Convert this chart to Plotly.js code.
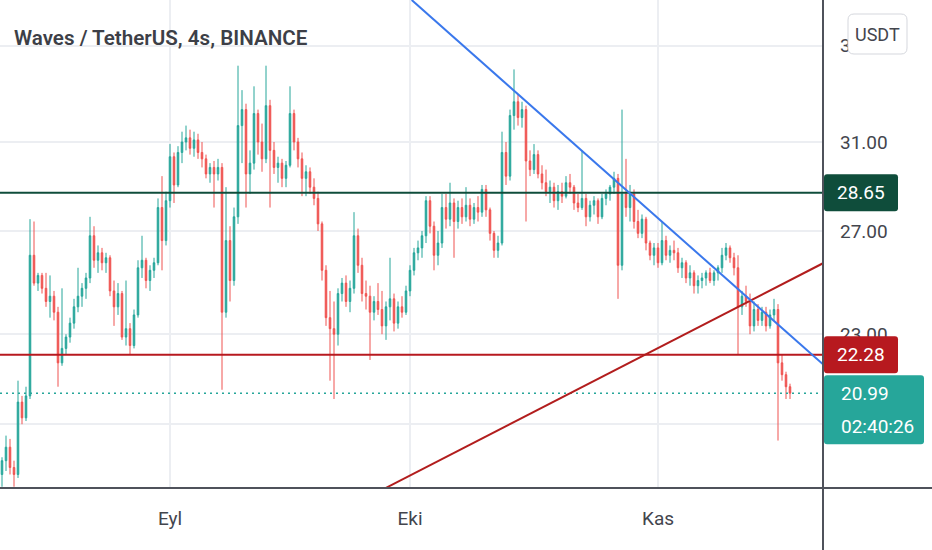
<!DOCTYPE html>
<html>
<head>
<meta charset="utf-8">
<script src="https://cdn.plot.ly/plotly-3.0.1.min.js"></script>
<style>html,body{margin:0;padding:0;background:#fff}#chart{width:932px;height:550px}</style>
</head>
<body>
<div id="chart"></div>
<script>
// ---- data (12h candles) ----
const startTime = '2021-08-11 00:00';
const stepHours = 12;
const openPrices = [18.5,18.9,19.3,18.7,18.5,20.7,20.2,20.9,26.0,24.9,
 25.2,24.7,24.2,24.4,23.8,22.0,22.5,22.9,23.4,24.0,
 24.4,24.7,25.1,26.8,25.8,26.1,25.7,25.9,24.6,24.0,
 24.5,22.9,23.2,22.6,23.7,25.5,25.8,25.0,25.4,25.7,
 28.0,26.6,28.3,30.3,29.0,30.5,31.0,31.2,30.7,31.1,
 30.5,30.2,29.5,29.8,29.5,29.8,23.8,26.6,25.0,27.6,
 31.8,32.6,29.5,30.0,32.4,31.0,30.2,32.8,30.6,29.8,
 30.0,29.3,29.9,32.4,31.0,30.2,29.3,29.6,28.9,28.4,
 27.3,25.4,23.6,23.2,23.0,24.5,24.9,24.2,24.7,26.8,
 25.6,24.5,24.4,23.8,24.2,23.9,23.3,24.0,24.3,23.4,
 24.0,23.8,24.6,25.4,26.1,26.3,26.8,28.3,27.2,26.0,
 26.5,28.0,27.5,28.2,27.4,28.0,27.6,28.1,27.5,28.0,
 27.8,28.8,27.9,26.9,26.2,26.5,30.5,29.4,32.3,33.0,
 32.2,32.6,30.1,29.7,30.4,29.5,29.1,28.7,28.9,28.3,
 28.7,28.5,29.1,28.9,28.2,28.0,28.4,27.6,28.1,28.3,
 27.6,28.4,28.6,28.9,29.3,25.6,28.6,28.0,28.6,27.4,
 26.9,27.5,26.5,26.0,26.3,25.7,26.6,26.0,26.2,26.1,
 25.5,25.7,25.1,25.3,24.8,25.0,25.1,25.3,25.0,25.3,
 25.5,26.0,26.3,25.9,25.5,24.0,24.4,24.2,23.3,23.9,
 23.5,23.8,23.3,23.7,23.9,22.0,21.6,21.2];
const highPrices = [19.0,19.65,19.55,18.9,21.4,20.9,21.2,27.5,27.4,25.3,
 25.3,25.3,25.2,24.6,24.0,24.7,23.0,23.6,24.3,25.5,
 24.9,25.3,27.6,27.2,26.4,26.3,26.1,26.0,25.0,24.9,
 24.6,25.0,23.4,23.9,25.8,26.8,25.9,25.6,25.9,28.4,
 29.4,28.7,30.9,30.5,30.8,31.5,31.8,31.6,31.5,31.4,
 31.0,30.4,30.0,30.1,30.2,30.0,28.9,27.2,28.0,34.9,
 33.6,32.9,30.6,33.8,32.6,31.9,34.9,33.1,31.0,30.3,
 30.2,30.1,33.8,32.6,31.2,30.5,29.9,29.8,29.3,28.7,
 27.4,25.6,24.6,24.2,24.7,25.1,25.2,25.0,27.8,27.1,
 25.9,25.0,24.8,24.4,24.9,24.6,24.2,25.9,24.5,24.2,
 24.4,24.8,25.6,26.3,26.6,27.0,28.5,28.5,27.4,27.0,
 28.6,28.6,29.1,28.4,28.3,28.4,28.9,28.4,28.2,28.5,
 29.0,29.0,28.0,27.0,26.8,31.5,31.0,32.6,34.7,33.4,
 33.0,32.8,30.6,30.9,30.6,29.9,29.7,29.2,29.1,29.0,
 29.1,29.4,29.5,29.0,28.6,30.6,28.6,28.3,28.5,28.4,
 28.6,28.8,29.0,29.6,29.5,32.6,30.2,29.0,28.8,27.9,
 27.7,27.6,26.6,26.5,26.5,27.4,26.8,26.4,26.6,26.3,
 25.9,25.8,25.6,25.4,25.2,25.3,25.4,25.5,25.4,25.6,
 26.3,26.5,26.4,26.1,26.0,24.6,24.8,24.5,24.2,24.1,
 24.0,24.0,23.9,24.3,24.1,22.3,21.7,21.3];
const lowPrices = [18.15,18.6,18.5,18.15,18.4,20.0,20.1,20.8,24.8,24.6,
 24.5,24.0,23.6,23.5,21.2,21.9,22.3,22.7,23.2,23.8,
 24.0,24.3,24.9,25.5,25.3,25.4,25.3,24.4,23.3,23.7,
 22.8,22.6,22.3,22.5,23.6,25.1,24.7,24.6,25.1,25.6,
 25.4,26.4,28.0,28.2,28.9,30.0,30.6,30.4,30.3,30.2,
 29.8,29.3,29.1,28.0,29.2,21.1,23.6,24.2,24.8,27.3,
 30.0,28.0,28.6,29.7,30.4,29.6,30.0,28.0,29.5,29.1,
 28.9,28.9,29.8,30.6,29.8,28.5,28.5,28.6,28.1,27.0,
 25.0,23.3,21.4,20.8,22.6,24.2,24.0,23.8,24.5,25.3,
 24.2,23.9,22.1,23.5,23.7,23.0,22.8,23.5,23.1,23.2,
 23.6,23.7,24.4,25.2,25.8,25.9,26.5,26.9,25.4,25.6,
 26.3,27.1,27.2,25.9,27.1,27.3,27.4,27.2,27.3,27.4,
 27.6,27.6,26.6,25.9,25.9,26.4,29.0,29.2,31.6,31.8,
 31.7,27.4,29.4,29.5,29.3,28.8,28.5,28.2,28.0,27.9,
 28.2,28.4,28.6,27.9,27.8,27.9,27.2,27.4,27.7,27.3,
 27.5,28.1,28.3,28.6,24.3,25.4,27.6,27.4,27.1,26.7,
 26.7,26.2,25.8,25.6,25.5,25.6,25.8,25.7,25.8,25.3,
 25.1,24.9,24.8,24.5,24.5,24.7,24.8,24.9,24.8,25.0,
 25.3,25.8,25.7,25.2,22.3,23.7,24.0,23.0,23.1,23.3,
 23.3,23.1,23.2,23.5,19.5,21.4,20.8,20.8];
const closePrices = [18.9,19.3,18.7,18.5,20.7,20.2,20.9,26.0,24.9,25.2,
 24.7,24.2,24.4,23.8,22.0,22.5,22.9,23.4,24.0,24.4,
 24.7,25.1,26.8,25.8,26.1,25.7,25.9,24.6,24.0,24.5,
 22.9,23.2,22.6,23.7,25.5,25.8,25.0,25.4,25.7,28.0,
 26.6,28.3,30.3,29.0,30.5,31.0,31.2,30.7,31.1,30.5,
 30.2,29.5,29.8,29.5,29.8,23.8,26.6,25.0,27.6,31.8,
 32.6,29.5,30.0,32.4,31.0,30.2,32.8,30.6,29.8,30.0,
 29.3,29.9,32.4,31.0,30.2,29.3,29.6,28.9,28.4,27.3,
 25.4,23.6,23.2,23.0,24.5,24.9,24.2,24.7,26.8,25.6,
 24.5,24.4,23.8,24.2,23.9,23.3,24.0,24.3,23.4,24.0,
 23.8,24.6,25.4,26.1,26.3,26.8,28.3,27.2,26.0,26.5,
 28.0,27.5,28.2,27.4,28.0,27.6,28.1,27.5,28.0,27.8,
 28.8,27.9,26.9,26.2,26.5,30.5,29.4,32.3,33.0,32.2,
 32.6,30.1,29.7,30.4,29.5,29.1,28.7,28.9,28.3,28.7,
 28.5,29.1,28.9,28.2,28.0,28.4,27.6,28.1,28.3,27.6,
 28.4,28.6,28.9,29.3,25.6,28.6,28.0,28.6,27.4,26.9,
 27.5,26.5,26.0,26.3,25.7,26.6,26.0,26.2,26.1,25.5,
 25.7,25.1,25.3,24.8,25.0,25.1,25.3,25.0,25.3,25.5,
 26.0,26.3,25.9,25.5,24.0,24.4,24.2,23.3,23.9,23.5,
 23.8,23.3,23.7,23.9,22.0,21.6,21.2,20.99];

const resistancePrice = 28.65;
const supportPrice = 22.28;
const lastPrice = 20.99;
const countdownText = '02:40:26';
const blueTrendTimes = ['2021-10-01 05:00', '2021-11-21 15:00'];
const blueTrendPrices = [38.65, 21.95];
const redTrendTimes = ['2021-09-28 00:00', '2021-11-21 15:00'];
const redTrendPrices = [18.12, 25.68];

const monthTickDates = ['2021-09-01', '2021-10-01', '2021-11-01'];
const monthTickLabels = ['Eyl', 'Eki', 'Kas'];
// grid levels of the price scale; the 20.00 label sits fully behind the last-price tag in the picture
const priceTickValues = [20, 23, 27, 31, 36];
const priceTickLabels = ['', '23.00', '27.00', '31.00', '36.00'];

const chartTitle = 'Waves / TetherUS, 4s, BINANCE';
const currencyLabel = 'USDT';

// ---- helpers ----
function fmtDate(ms) {
  const d = new Date(ms);
  const p = n => String(n).padStart(2, '0');
  return d.getUTCFullYear() + '-' + p(d.getUTCMonth() + 1) + '-' + p(d.getUTCDate()) + ' ' + p(d.getUTCHours()) + ':00';
}
const t0 = Date.parse(startTime.replace(' ', 'T') + ':00Z');
const times = closePrices.map((_, i) => fmtDate(t0 + i * stepHours * 3600e3));

const xRange = ['2021-08-10 18:00', '2021-11-21 15:00'];
const yRangePrices = [18.115, 38.648];
const L0 = Math.log10(yRangePrices[0]), L1 = Math.log10(yRangePrices[1]);
const PLOT_W = 823, PLOT_H = 488;
const priceToPaper = p => (Math.log10(p) - L0) / (L1 - L0);
const priceToPx = p => PLOT_H * (1 - priceToPaper(p));
const pX = x => x / PLOT_W;
const pY = y => (PLOT_H - y) / PLOT_H;

function roundRect(x0, y0, x1, y1, r) {
  const P = (x, y) => pX(x).toFixed(5) + ',' + pY(y).toFixed(5);
  return 'M' + P(x0 + r, y0) + ' L' + P(x1 - r, y0) + ' Q' + P(x1, y0) + ' ' + P(x1, y0 + r) +
    ' L' + P(x1, y1 - r) + ' Q' + P(x1, y1) + ' ' + P(x1 - r, y1) +
    ' L' + P(x0 + r, y1) + ' Q' + P(x0, y1) + ' ' + P(x0, y1 - r) +
    ' L' + P(x0, y0 + r) + ' Q' + P(x0, y0) + ' ' + P(x0 + r, y0) + ' Z';
}

const FONT = 'Roboto, "Noto Sans", sans-serif';
const TEXT = '#43454d';
const UP = '#26a69a', DOWN = '#ef5350';
const GREEN_LINE = '#0f4d3b', RED_LINE = '#b7191f', RED_TREND = '#b21d1d', BLUE_TREND = '#3a78ec';

const traces = [
  {
    type: 'candlestick', x: times, open: openPrices, high: highPrices, low: lowPrices, close: closePrices,
    increasing: {line: {color: UP, width: 1}, fillcolor: UP},
    decreasing: {line: {color: DOWN, width: 1}, fillcolor: DOWN},
    whiskerwidth: 0, hoverinfo: 'skip', showlegend: false
  },
  {type: 'scatter', mode: 'lines', x: xRange, y: [lastPrice, lastPrice],
   line: {color: UP, width: 1.5, dash: '2px,4px'}, hoverinfo: 'skip'},
  {type: 'scatter', mode: 'lines', x: xRange, y: [resistancePrice, resistancePrice],
   line: {color: GREEN_LINE, width: 2}, hoverinfo: 'skip'},
  {type: 'scatter', mode: 'lines', x: xRange, y: [supportPrice, supportPrice],
   line: {color: RED_LINE, width: 2}, hoverinfo: 'skip'},
  {type: 'scatter', mode: 'lines', x: redTrendTimes, y: redTrendPrices,
   line: {color: RED_TREND, width: 2}, hoverinfo: 'skip'},
  {type: 'scatter', mode: 'lines', x: blueTrendTimes, y: blueTrendPrices,
   line: {color: BLUE_TREND, width: 2}, hoverinfo: 'skip'}
];

const resY = priceToPx(resistancePrice), supY = priceToPx(supportPrice), lastY = priceToPx(lastPrice);

const shapes = [
  {type: 'path', xref: 'paper', yref: 'paper', path: roundRect(824, resY - 18.5, 898, resY + 18.5, 3), fillcolor: GREEN_LINE, line: {width: 0}, layer: 'above'},
  {type: 'path', xref: 'paper', yref: 'paper', path: roundRect(824, supY - 18.5, 898, supY + 18.5, 3), fillcolor: RED_LINE, line: {width: 0}, layer: 'above'},
  {type: 'path', xref: 'paper', yref: 'paper', path: roundRect(824, lastY - 18, 924, lastY + 51, 3), fillcolor: UP, line: {width: 0}, layer: 'above'},
  {type: 'path', xref: 'paper', yref: 'paper', path: roundRect(848, 14, 907, 54, 6), fillcolor: '#ffffff', line: {color: '#d5d7dd', width: 1}, layer: 'above'},
  {type: 'line', xref: 'paper', yref: 'paper', x0: 0, x1: 932 / PLOT_W, y0: 0, y1: 0, line: {color: '#4f525b', width: 2}, layer: 'above'},
  {type: 'line', xref: 'paper', yref: 'paper', x0: 1, x1: 1, y0: -62 / PLOT_H, y1: 1, line: {color: '#4f525b', width: 2}, layer: 'above'}
];

const boxFont = {family: FONT, size: 19, color: '#ffffff'};
const annotations = [
  {xref: 'paper', yref: 'paper', x: pX(861), y: priceToPaper(resistancePrice), xanchor: 'center', yanchor: 'middle',
   text: resistancePrice.toFixed(2), showarrow: false, font: boxFont},
  {xref: 'paper', yref: 'paper', x: pX(861), y: priceToPaper(supportPrice), xanchor: 'center', yanchor: 'middle',
   text: supportPrice.toFixed(2), showarrow: false, font: boxFont},
  {xref: 'paper', yref: 'paper', x: pX(839), y: priceToPaper(lastPrice), xanchor: 'left', yanchor: 'middle',
   text: lastPrice.toFixed(2), showarrow: false, font: boxFont},
  {xref: 'paper', yref: 'paper', x: pX(839), y: priceToPaper(lastPrice), yshift: -33, xanchor: 'left', yanchor: 'middle',
   text: countdownText, showarrow: false, font: boxFont},
  {xref: 'paper', yref: 'paper', x: pX(877.5), y: pY(34), xanchor: 'center', yanchor: 'middle',
   text: currencyLabel, showarrow: false, font: {family: FONT, size: 18, color: TEXT}}
];

const layout = {
  width: 932, height: 550,
  margin: {l: 0, r: 109, t: 0, b: 62, pad: 0},
  paper_bgcolor: '#ffffff', plot_bgcolor: '#ffffff',
  showlegend: false, hovermode: false, boxgap: 0.45,
  title: {text: chartTitle, xref: 'container', yref: 'container', x: 14 / 932, xanchor: 'left',
          y: 1 - 38 / 550, yanchor: 'middle', font: {family: FONT, size: 20.6, color: '#3d3f47', weight: 600}},
  xaxis: {
    type: 'date', range: xRange, tickvals: monthTickDates, ticktext: monthTickLabels,
    showgrid: true, gridcolor: '#eceef2', gridwidth: 2, zeroline: false, showline: false,
    ticks: '', ticklabelstandoff: 17, tickfont: {family: FONT, size: 19, color: TEXT},
    rangeslider: {visible: false}, fixedrange: true
  },
  yaxis: {
    type: 'log', side: 'right', range: [L0, L1], tickvals: priceTickValues, ticktext: priceTickLabels,
    showgrid: true, gridcolor: '#eceef2', gridwidth: 2, zeroline: false, showline: false,
    ticks: '', ticklabelstandoff: 16, tickfont: {family: FONT, size: 19, color: TEXT}, fixedrange: true
  },
  shapes: shapes,
  annotations: annotations
};

Plotly.newPlot('chart', traces, layout, {displayModeBar: false, staticPlot: true});
</script>
</body>
</html>
